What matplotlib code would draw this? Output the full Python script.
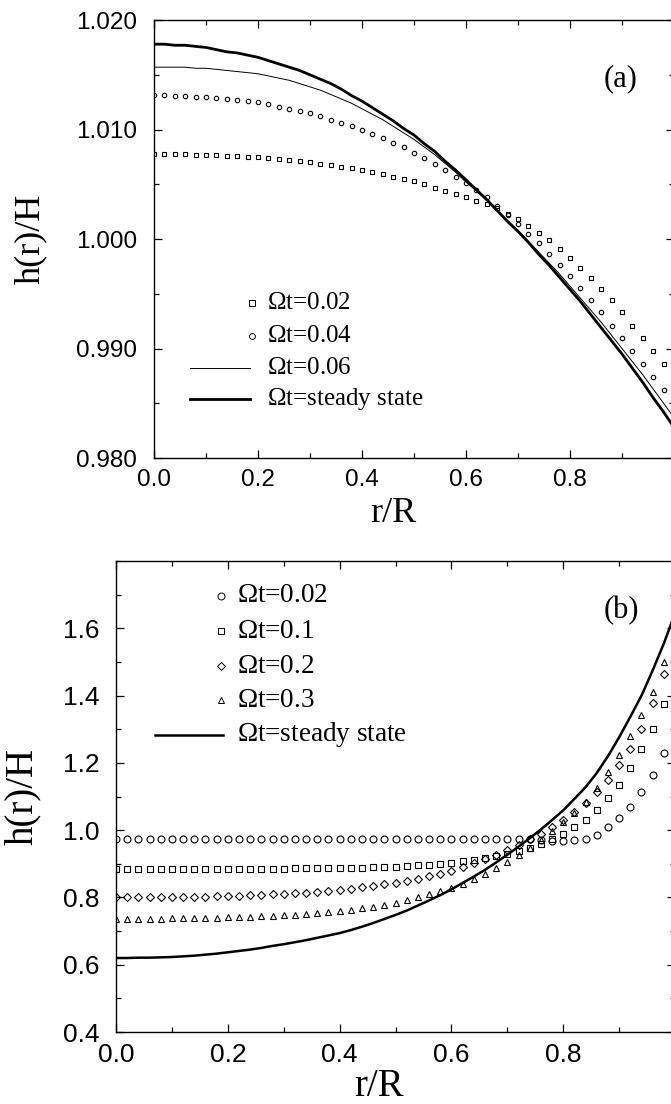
"""Two-panel film height profiles h(r)/H versus r/R at several rotation times."""
import numpy as np
import matplotlib
matplotlib.use('Agg')
import matplotlib.pyplot as plt
from matplotlib.ticker import MultipleLocator, FormatStrFormatter, FuncFormatter

SANS = 'Liberation Sans'
SERIF = 'Liberation Serif'

# radial sample positions (r/R)
r = np.round(np.arange(51) * 0.02, 2)

# ---- panel (a) ----
a_t002 = [1.0078, 1.0078, 1.0078, 1.0078, 1.0077, 1.0077, 1.0077, 1.0076, 1.0076, 1.0075,
          1.0075, 1.0074, 1.0073, 1.0072, 1.0071, 1.0070, 1.0069, 1.0068, 1.0066, 1.0065,
          1.0063, 1.0061, 1.0059, 1.0057, 1.0055, 1.0053, 1.0050, 1.0047, 1.0044, 1.0041,
          1.0038, 1.0035, 1.0032, 1.0028, 1.0023, 1.0018, 1.0012, 1.0006, 0.9999, 0.9991,
          0.9983, 0.9974, 0.9964, 0.9954, 0.9944, 0.9933, 0.9921, 0.9910, 0.9898, 0.9886,
          0.9874]
a_t004 = [1.0132, 1.0132, 1.0131, 1.0131, 1.0130, 1.0130, 1.0129, 1.0128, 1.0127, 1.0126,
          1.0125, 1.0123, 1.0121, 1.0119, 1.0117, 1.0115, 1.0112, 1.0109, 1.0106, 1.0103,
          1.0100, 1.0096, 1.0092, 1.0088, 1.0084, 1.0079, 1.0074, 1.0069, 1.0063, 1.0057,
          1.0051, 1.0045, 1.0038, 1.0030, 1.0022, 1.0014, 1.0005, 0.9996, 0.9986, 0.9976,
          0.9966, 0.9955, 0.9944, 0.9933, 0.9921, 0.9910, 0.9898, 0.9886, 0.9874, 0.9862,
          0.9850]
a_t006 = [1.0157, 1.0157, 1.0157, 1.0157, 1.0156, 1.0156, 1.0155, 1.0154, 1.0153, 1.0152,
          1.0151, 1.0149, 1.0147, 1.0145, 1.0142, 1.0139, 1.0136, 1.0132, 1.0128, 1.0124,
          1.0119, 1.0114, 1.0109, 1.0103, 1.0097, 1.0091, 1.0084, 1.0077, 1.0069, 1.0061,
          1.0052, 1.0044, 1.0035, 1.0026, 1.0017, 1.0008, 0.9998, 0.9988, 0.9978, 0.9968,
          0.9957, 0.9946, 0.9935, 0.9924, 0.9912, 0.9900, 0.9888, 0.9876, 0.9863, 0.9850,
          0.9837]
a_steady = [1.0178, 1.0178, 1.0177, 1.0177, 1.0176, 1.0175, 1.0173, 1.0171, 1.0170, 1.0168,
            1.0166, 1.0163, 1.0160, 1.0157, 1.0154, 1.0150, 1.0146, 1.0142, 1.0137, 1.0131,
            1.0126, 1.0120, 1.0114, 1.0108, 1.0101, 1.0095, 1.0087, 1.0080, 1.0071, 1.0063,
            1.0054, 1.0045, 1.0036, 1.0026, 1.0016, 1.0007, 0.9997, 0.9986, 0.9976, 0.9965,
            0.9954, 0.9943, 0.9931, 0.9919, 0.9907, 0.9895, 0.9882, 0.9869, 0.9855, 0.9842,
            0.9828]

# ---- panel (b) ----
b_t002 = [0.975] * 36 + [0.974, 0.973, 0.971, 0.969, 0.968, 0.970, 0.975, 0.987, 1.010,
                         1.035, 1.070, 1.112, 1.165, 1.230, 1.310]
b_t01 = [0.885, 0.885, 0.885, 0.885, 0.885, 0.885, 0.885, 0.885, 0.885, 0.886,
         0.886, 0.886, 0.886, 0.886, 0.886, 0.886, 0.887, 0.887, 0.887, 0.888,
         0.888, 0.888, 0.889, 0.890, 0.891, 0.892, 0.893, 0.895, 0.897, 0.900,
         0.903, 0.907, 0.911, 0.916, 0.922, 0.930, 0.938, 0.948, 0.960, 0.974,
         0.990, 1.008, 1.030, 1.060, 1.095, 1.135, 1.185, 1.240, 1.300, 1.375,
         1.470]
b_t02 = [0.800, 0.800, 0.800, 0.800, 0.800, 0.801, 0.801, 0.802, 0.802, 0.803,
         0.804, 0.805, 0.806, 0.807, 0.809, 0.810, 0.812, 0.814, 0.816, 0.819,
         0.822, 0.826, 0.830, 0.834, 0.839, 0.844, 0.850, 0.856, 0.863, 0.871,
         0.880, 0.890, 0.901, 0.913, 0.926, 0.940, 0.956, 0.974, 0.990, 1.008,
         1.030, 1.054, 1.082, 1.113, 1.150, 1.193, 1.242, 1.300, 1.378, 1.465,
         1.570]
b_t03 = [0.737, 0.737, 0.737, 0.737, 0.737, 0.738, 0.738, 0.739, 0.739, 0.740,
         0.741, 0.742, 0.743, 0.744, 0.745, 0.747, 0.748, 0.750, 0.753, 0.756,
         0.759, 0.763, 0.768, 0.773, 0.779, 0.785, 0.792, 0.800, 0.809, 0.818,
         0.829, 0.841, 0.855, 0.870, 0.887, 0.905, 0.925, 0.947, 0.971, 0.997,
         1.025, 1.052, 1.085, 1.125, 1.172, 1.224, 1.280, 1.342, 1.412, 1.500,
         1.610]
b_steady = [0.620, 0.620, 0.621, 0.621, 0.622, 0.623, 0.625, 0.627, 0.630, 0.633,
            0.637, 0.641, 0.645, 0.650, 0.656, 0.661, 0.667, 0.673, 0.680, 0.687,
            0.694, 0.703, 0.713, 0.724, 0.736, 0.748, 0.761, 0.776, 0.791, 0.807,
            0.824, 0.843, 0.862, 0.882, 0.904, 0.927, 0.951, 0.976, 1.002, 1.030,
            1.059, 1.093, 1.128, 1.170, 1.220, 1.276, 1.337, 1.400, 1.475, 1.555,
            1.645]

a_labels = [r'$\Omega$t=0.02', r'$\Omega$t=0.04', r'$\Omega$t=0.06', r'$\Omega$t=steady state']
b_labels = [r'$\Omega$t=0.02', r'$\Omega$t=0.1', r'$\Omega$t=0.2', r'$\Omega$t=0.3',
            r'$\Omega$t=steady state']

plt.rcParams['mathtext.fontset'] = 'custom'
plt.rcParams['mathtext.rm'] = SERIF
plt.rcParams['mathtext.it'] = SERIF

fig = plt.figure(figsize=(6.71, 11.04), dpi=100)
ax_a = fig.add_axes([0.2295, 0.5851, 0.7750, 0.3967])
ax_b = fig.add_axes([0.1729, 0.0652, 0.8331, 0.4266])

hollow = dict(mfc='none', mec='k', color='k', ls='none')

# panel (a) curves
ax_a.plot(r, a_t002, marker='s', ms=3.0, mew=0.8, **hollow)
ax_a.plot(r, a_t004, marker='o', ms=3.2, mew=0.8, **hollow)
ax_a.plot(r, a_t006, color='k', lw=0.7)
ax_a.plot(r, a_steady, color='k', lw=2.0)

# panel (b) curves
ax_b.plot(r, b_t002, marker='o', ms=5.0, mew=0.8, **hollow)
ax_b.plot(r, b_t01, marker='s', ms=4.5, mew=0.8, **hollow)
ax_b.plot(r, b_t02, marker='D', ms=4.0, mew=0.8, **hollow)
ax_b.plot(r, b_t03, marker='^', ms=5.0, mew=0.8, **hollow)
ax_b.plot(r, b_steady, color='k', lw=1.8)

# the right edge (r/R = 1) falls just outside the picture: no label there
xfmt = FuncFormatter(lambda v, pos: '' if v > 0.95 else f'{v:.1f}')


def style_axes(ax, ylo, yhi, ymaj, ymin, yfmt, tsize, lsize):
    ax.set_xlim(0, 1.0)
    ax.set_ylim(ylo, yhi)
    ax.xaxis.set_major_locator(MultipleLocator(0.2))
    ax.xaxis.set_minor_locator(MultipleLocator(0.1))
    ax.yaxis.set_major_locator(MultipleLocator(ymaj))
    ax.yaxis.set_minor_locator(MultipleLocator(ymin))
    ax.xaxis.set_major_formatter(xfmt)
    ax.yaxis.set_major_formatter(FormatStrFormatter(yfmt))
    ax.tick_params(which='both', direction='in', top=True, right=True, width=0.9)
    ax.tick_params(which='major', length=6)
    ax.tick_params(which='minor', length=3.5)
    ax.tick_params(axis='y', pad=12, labelsize=tsize)
    ax.tick_params(axis='x', pad=8, labelsize=tsize)
    for lab in ax.get_xticklabels() + ax.get_yticklabels():
        lab.set_family(SANS)
    for sp in ax.spines.values():
        sp.set_linewidth(1.0)
    ax.set_xlabel('r/R', family=SERIF, fontsize=lsize, va='top')
    ax.set_ylabel('h(r)/H', family=SERIF, fontsize=lsize)


style_axes(ax_a, 0.980, 1.020, 0.010, 0.005, '%.3f', 17.5, 26)
style_axes(ax_b, 0.4, 1.8, 0.2, 0.1, '%.1f', 19, 28)
ax_b.set_yticks(np.arange(0.4, 1.61, 0.2))
ax_b.yaxis.set_major_formatter(FormatStrFormatter('%.1f'))
for lab in ax_b.get_yticklabels():
    lab.set_family(SANS)

ax_a.xaxis.set_label_coords(0.46, -0.09)
ax_a.yaxis.set_label_coords(-0.205, 0.5)
ax_b.xaxis.set_label_coords(0.47, -0.076)
ax_b.yaxis.set_label_coords(-0.135, 0.5)

ax_a.text(0.897, 0.865, '(a)', transform=ax_a.transAxes, family=SERIF,
          fontsize=22, ha='center', va='center')
ax_b.text(0.904, 0.894, '(b)', transform=ax_b.transAxes, family=SERIF,
          fontsize=22, ha='center', va='center')

# hand-placed legends (marker sits at the right end of the handle)
a_rows = [0.354, 0.279, 0.205, 0.134]
a_kinds = [('s', 3.0, None), ('o', 3.2, None), (None, 0, 0.7), (None, 0, 2.0)]
for y, lab, (mk, ms, lw) in zip(a_rows, a_labels, a_kinds):
    if mk:
        ax_a.plot([0.188], [y], marker=mk, ms=ms + 1, mew=0.7, transform=ax_a.transAxes,
                  clip_on=False, **hollow)
    else:
        ax_a.plot([0.069, 0.185], [y, y], color='k', lw=lw, transform=ax_a.transAxes)
    ax_a.text(0.217, y, lab, transform=ax_a.transAxes, family=SERIF, fontsize=18,
              va='center', ha='left')

b_rows = [0.926, 0.851, 0.777, 0.704, 0.631]
b_kinds = [('o', 5.0, None), ('s', 4.5, None), ('D', 4.0, None), ('^', 5.0, None),
           (None, 0, 1.8)]
for y, lab, (mk, ms, lw) in zip(b_rows, b_labels, b_kinds):
    if mk:
        ax_b.plot([0.188], [y], marker=mk, ms=ms, mew=0.7, transform=ax_b.transAxes,
                  clip_on=False, **hollow)
    else:
        ax_b.plot([0.070, 0.191], [y, y], color='k', lw=lw, transform=ax_b.transAxes)
    ax_b.text(0.217, y, lab, transform=ax_b.transAxes, family=SERIF, fontsize=19.5,
              va='center', ha='left')

fig.savefig('out.png', dpi=100)
